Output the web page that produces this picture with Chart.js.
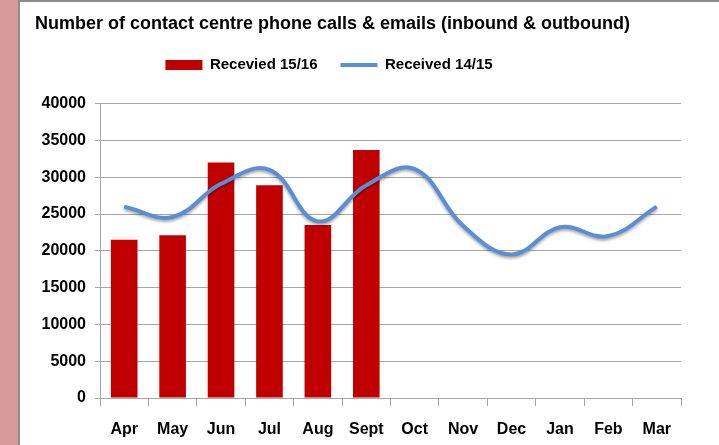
<!DOCTYPE html>
<html>
<head>
<meta charset="utf-8">
<script src="https://cdn.jsdelivr.net/npm/chart.js@4/dist/chart.umd.min.js"></script>
<style>
  body { margin: 0; background: #fff; }
  #strip { position: absolute; left: 0; top: 0; width: 18px; height: 445px; background: #d99a9b; }
  #box { position: absolute; left: 18px; top: 0; width: 701px; height: 445px;
         border-top: 2px solid #8c8c8c; border-left: 2px solid #8c8c8c; box-sizing: border-box; }
  canvas { position: absolute; left: 0; top: 0; }
</style>
</head>
<body>
<div id="strip"></div>
<div id="box"><canvas id="chart" width="699" height="443"></canvas></div>
<script>
const months = ['Apr', 'May', 'Jun', 'Jul', 'Aug', 'Sept', 'Oct', 'Nov', 'Dec', 'Jan', 'Feb', 'Mar'];
const received1516 = [21500, 22100, 32000, 28900, 23500, 33700, null, null, null, null, null, null];
const received1415 = [26000, 24600, 29100, 31000, 24000, 28900, 31100, 23400, 19500, 23200, 22000, 26000];
const yTicks = [0, 5000, 10000, 15000, 20000, 25000, 30000, 35000, 40000];

const gridGrey = '#a6a6a6';
const font = 'Liberation Sans, Arial, sans-serif';

// soft shadow under the 14/15 line like the Excel original
const lineShadow = {
  id: 'lineShadow',
  beforeDatasetDraw(chart, args) {
    if (args.meta.type !== 'line') return;
    const ctx = chart.ctx;
    ctx.save();
    ctx.shadowColor = 'rgba(0,0,0,0.35)';
    ctx.shadowBlur = 3;
    ctx.shadowOffsetY = 2;
  },
  afterDatasetDraw(chart, args) {
    if (args.meta.type === 'line') chart.ctx.restore();
  }
};

// legend in the original sits a bit left of centre
const legendShift = {
  id: 'legendShift',
  afterLayout(chart) {
    chart.legend.left -= 29;
    chart.legend.right -= 29;
  }
};

new Chart(document.getElementById('chart'), {
  data: {
    labels: months,
    datasets: [
      {
        type: 'bar',
        label: 'Recevied 15/16',
        data: received1516,
        backgroundColor: '#c00000',
        borderWidth: 0,
        pointStyle: 'rect',
        categoryPercentage: 1,
        barPercentage: 0.55,
        order: 1
      },
      {
        type: 'line',
        label: 'Received 14/15',
        data: received1415,
        borderColor: '#5a8fd6',
        backgroundColor: '#5a8fd6',
        borderWidth: 4,
        pointRadius: 0,
        pointStyle: 'line',
        tension: 0.4,
        fill: false,
        order: 0
      }
    ]
  },
  options: {
    responsive: false,
    animation: false,
    devicePixelRatio: 1,
    layout: { padding: { left: 15, right: 38, top: 0, bottom: 6 } },
    plugins: {
      title: {
        display: true,
        text: 'Number of contact centre phone calls & emails (inbound & outbound)',
        align: 'start',
        color: '#000',
        font: { family: font, size: 18, weight: 'bold', lineHeight: 1.2 },
        padding: { top: 11, bottom: 0 }
      },
      // empty spacer between legend and plot
      subtitle: {
        display: true,
        text: '',
        weight: 500,
        font: { size: 1, lineHeight: 1 },
        padding: { top: 0, bottom: 20 }
      },
      legend: {
        display: true,
        position: 'top',
        labels: {
          usePointStyle: true,
          pointStyleWidth: 37,
          boxHeight: 10,
          padding: 23,
          color: '#000',
          font: { family: font, size: 15, weight: 'bold' },
          sort: (a, b) => a.datasetIndex - b.datasetIndex
        }
      },
      tooltip: { enabled: false }
    },
    scales: {
      x: {
        offset: true,
        afterFit(scale) { scale.height = 41; },
        grid: {
          display: true,
          offset: true,
          drawOnChartArea: false,
          drawTicks: true,
          tickLength: 8,
          color: gridGrey
        },
        border: { display: true, color: gridGrey },
        ticks: {
          color: '#000',
          padding: 14,
          maxRotation: 0,
          font: { family: font, size: 16, weight: 'bold' }
        }
      },
      y: {
        min: 0,
        max: 40000,
        afterFit(scale) { scale.width = 65; },
        afterBuildTicks(scale) { scale.ticks = yTicks.map(v => ({ value: v })); },
        grid: { color: gridGrey, tickLength: 5, drawTicks: true },
        border: { display: true, color: gridGrey },
        ticks: {
          color: '#000',
          padding: 9,
          callback: v => String(v),
          font: { family: font, size: 16, weight: 'bold' }
        }
      }
    }
  },
  plugins: [lineShadow, legendShift]
});
</script>
</body>
</html>
